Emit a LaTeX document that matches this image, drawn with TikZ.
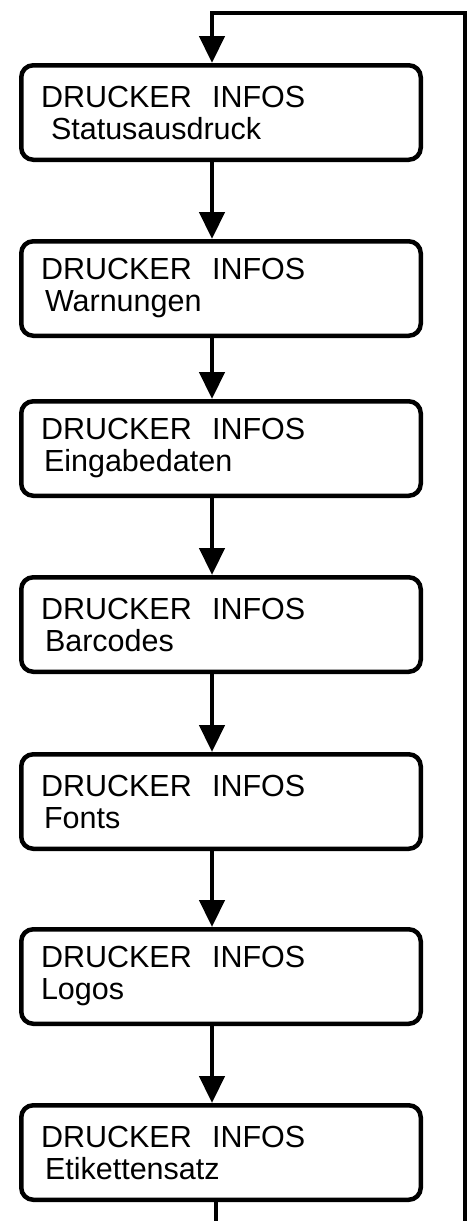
\documentclass[tikz,border=0pt]{standalone}
\usepackage{fontspec}
\setmainfont{Liberation Sans}
\usetikzlibrary{arrows.meta}

\tikzset{
	info/.style={draw, line width=4.5pt, rounded corners=12pt, anchor=north,
		minimum width=399.5pt, minimum height=94.5pt, text width=360pt,
		align=left, inner xsep=19.75pt, inner ysep=0pt,
		font=\fontsize{30.5}{32}\selectfont},
	flow/.style={line width=4.5pt, -{Triangle[length=27pt,width=25pt]}},
	loopline/.style={line width=4.5pt}
}

\begin{document}
\begin{tikzpicture}[x=1pt,y=-1pt]
	\useasboundingbox (0,0) rectangle (473,1221);
	% nodes
	\node[info] (stat) at (221,63) {DRUCKER\ \ INFOS\\\hspace*{10pt}Statusausdruck};
	\node[info] (warn) at (221,239) {DRUCKER\ \ INFOS\\\hspace*{4pt}Warnungen};
	\node[info] (eing) at (221,399) {DRUCKER\ \ INFOS\\\hspace*{3pt}Eingabedaten};
	\node[info] (barc) at (221,575) {DRUCKER\ \ INFOS\\\hspace*{4pt}Barcodes};
	\node[info] (font) at (221,752) {DRUCKER\ \ INFOS\\\hspace*{3pt}Fonts};
	\node[info] (logo) at (221,927) {DRUCKER\ \ INFOS\\Logos};
	\node[info] (etik) at (221,1103) {DRUCKER\ \ INFOS\\\hspace*{4pt}Etikettensatz};
	% loop corners
	\coordinate (top) at (212,13);
	\coordinate (right) at (465,1226);
	\coordinate (bot) at (216,1226);
	%
	\path[flow]
	% down arrows
	(stat.south -| top) edge (warn.north -| top)
	(warn.south -| top) edge (eing.north -| top)
	(eing.south -| top) edge (barc.north -| top)
	(barc.south -| top) edge (font.north -| top)
	(font.south -| top) edge (logo.north -| top)
	(logo.south -| top) edge (etik.north -| top);
	% back to the start
	\draw[loopline] (etik.south -| bot) -- (bot);
	\draw[flow] (right) |- (top) -- (stat.north -| top);
\end{tikzpicture}
\end{document}
